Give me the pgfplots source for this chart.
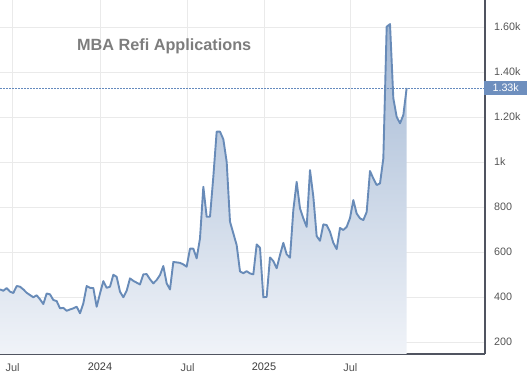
\documentclass[border=0pt]{standalone}
\usepackage{fontspec}
\setmainfont{Liberation Sans}
\usepackage{pgfplots}
\pgfplotsset{compat=1.18}
\usepackage{pgfplotstable}
\definecolor{lineblue}{RGB}{104,139,184}
\definecolor{filltop}{RGB}{163,184,212}
\definecolor{fillbot}{RGB}{240,243,248}
\definecolor{gridgray}{RGB}{234,234,234}
\definecolor{axisdark}{RGB}{80,84,96}
\definecolor{labelgray}{RGB}{85,85,85}
\definecolor{yeargray}{RGB}{60,60,60}
\definecolor{titlegray}{RGB}{125,125,125}
\definecolor{tagblue}{RGB}{110,143,190}
\definecolor{dotblue}{RGB}{100,138,190}

\pgfplotstableread{
x y
0 434
1 428
2 440
3 424
4 418
5 449
6 446
7 434
8 419
9 409
10 399
11 408
12 390
13 369
14 416
15 412
16 387
17 382
18 350
19 352
20 339
21 345
22 350
23 357
24 328
25 372
26 449
27 441
28 440
29 357
30 416
31 471
32 441
33 446
34 499
35 490
36 424
37 399
38 428
39 483
40 472
41 464
42 456
43 501
44 502
45 479
46 461
47 476
48 498
49 538
50 461
51 434
52 556
53 554
54 552
55 545
56 535
57 615
58 615
59 572
60 661
61 890
62 757
63 757
64 935
65 1135
66 1135
67 1101
68 1001
69 735
70 683
71 631
72 514
73 506
74 515
75 505
76 501
77 634
78 619
79 399
80 401
81 576
82 560
83 528
84 587
85 641
86 590
87 575
88 787
89 912
90 794
91 750
92 712
93 964
94 846
95 671
96 650
97 723
98 720
99 690
100 641
101 613
102 707
103 698
104 712
105 751
106 831
107 771
108 750
109 742
110 778
111 960
112 927
113 898
114 905
115 1016
116 1601
117 1613
118 1283
119 1201
120 1172
121 1209
122 1329
}\refi

\begin{document}
\begin{tikzpicture}
\useasboundingbox (0,-24bp) rectangle (530bp,354bp);
\begin{axis}[
  scale only axis, width=485bp, height=354bp,
  xmin=0, xmax=145.5, ymin=147, ymax=1720,
  axis x line*=bottom, axis y line*=right,
  axis line style={draw=axisdark, line width=1.1bp},
  xtick={3.8,30,56.3,79.2,105.1},
  xticklabels={Jul,\textcolor{yeargray}{2024},Jul,\textcolor{yeargray}{2025},Jul},
  ytick={200,400,...,1600},
  yticklabels={200,400,600,800,1k,1.20k,1.40k,1.60k},
  grid=major, grid style={draw=gridgray, line width=0.8bp},
  major tick length=0pt,
  tick style={draw=none},
  yticklabel style={anchor=west, inner sep=0pt, xshift=9bp, font=\fontsize{10.8}{12}\selectfont, text=labelgray},
  xticklabel style={anchor=north, inner sep=0pt, yshift=-9bp, font=\fontsize{11}{12}\selectfont, text=labelgray},
]
\addplot[draw=none, top color=filltop, bottom color=fillbot, forget plot] table[x=x,y=y]{\refi} \closedcycle;
\addplot[dotblue, line width=0.8bp, dash pattern=on 1.5bp off 1.5bp, forget plot] coordinates {(0,1329) (145.5,1329)};
\addplot[lineblue, line width=1.9bp, line join=round, mark=none] table[x=x,y=y]{\refi};
\node[anchor=base, font=\fontsize{16.3}{18}\selectfont\bfseries, text=titlegray] at (rel axis cs:0.3386,0.857) {MBA Refi Applications};
\coordinate (tag) at (axis cs:145.5,1329);
\end{axis}
\node[anchor=west, fill=tagblue, text=white, inner sep=0pt, minimum width=43bp, minimum height=14bp, font=\fontsize{10.8}{12}\selectfont, xshift=-1bp] at (tag) {1.33k};
\end{tikzpicture}
\end{document}
